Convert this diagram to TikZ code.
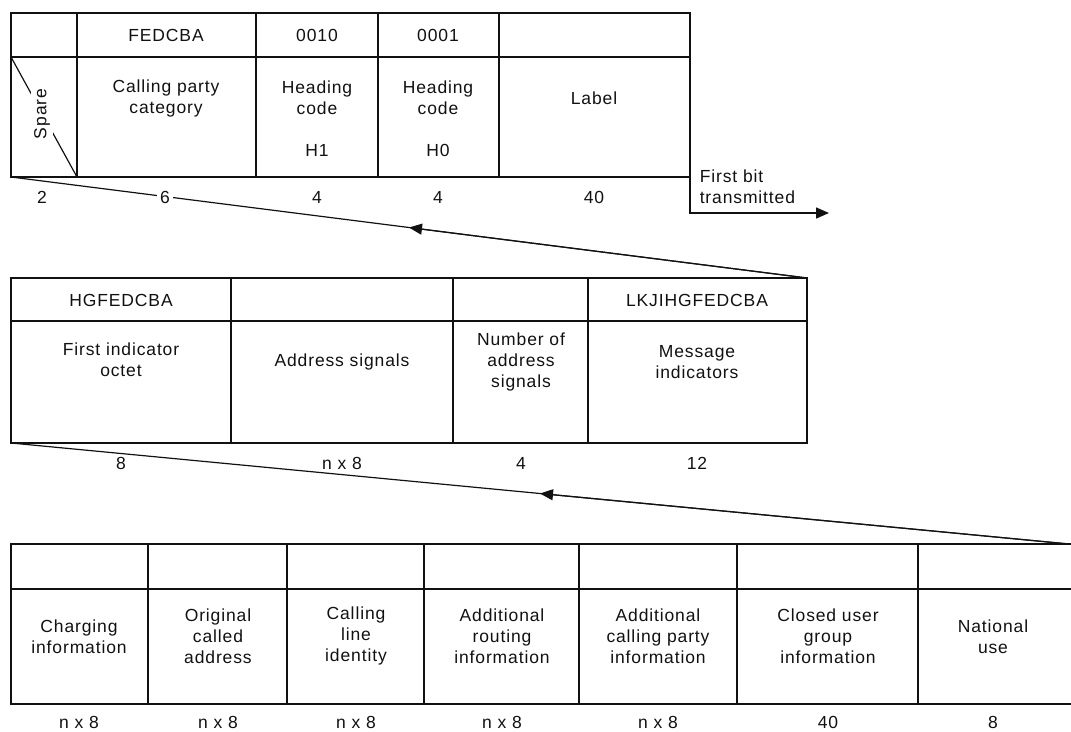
\documentclass[tikz,border=0pt]{standalone}
\usepackage{fontspec}
\setmainfont{Liberation Sans}[LetterSpace=5]
\usetikzlibrary{arrows.meta,calc}
\definecolor{ink}{HTML}{111111}

\begin{document}
\begin{tikzpicture}[x=1pt,y=-1pt,line width=1.5pt,draw=ink,text=ink,
  lbl/.style={font=\fontsize{17.5}{21}\selectfont,align=center,inner sep=1pt},
  flow/.style={line width=1.2pt},
  tip/.style={-{Triangle[length=13pt,width=11pt]}}]
  \useasboundingbox (0,0) rectangle (1071,731);
  % label unit
  \draw (11,13) rectangle (690,177);
  \draw (11,57) -- (690,57);
  \foreach \x in {77,256,378,499} \draw (\x,13) -- (\x,177);
  \draw[line width=1.2pt] (11,57) -- (77,177);
  \node[lbl,rotate=90,fill=white,inner sep=3pt] (spare) at (42,114){Spare};
  \node[lbl] (catcode) at (166,35){FEDCBA};
  \node[lbl] (hone) at (317,35){0010};
  \node[lbl] (hzero) at (438,35){0001};
  \node[lbl] (cat) at (166,98){Calling party\\category};
  \node[lbl] (hc1) at (317,98){Heading\\code};
  \node[lbl] (h1) at (317,150){H1};
  \node[lbl] (hc0) at (438,98){Heading\\code};
  \node[lbl] (h0) at (438,150){H0};
  \node[lbl] (label) at (594,98){Label};
  \coordinate (top-sw) at (11,177);
  \coordinate (top-se) at (690,177);
  \coordinate (fb) at (690,213);
  \coordinate (fb-end) at (829,213);
  \draw[tip] (top-se) -- (fb) -- (fb-end);
  \node[lbl,anchor=west,align=left] (first) at (698,187){First bit\\transmitted};
  % middle unit
  \draw (11,278) rectangle (807,443);
  \draw (11,321) -- (807,321);
  \foreach \x in {231,453,588} \draw (\x,278) -- (\x,443);
  \coordinate (mid-ne) at (807,278);
  \coordinate (mid-sw) at (11,443);
  \draw[flow] (top-sw) -- (mid-ne);
  \draw[flow,tip] (mid-ne) -- ($(top-sw)!.5!(mid-ne)$);
  \node[lbl] (w2) at (42,197){2};
  \node[lbl,fill=white,inner xsep=3pt,inner ysep=0pt] (w6) at (165,197){6};
  \node[lbl] (w4a) at (317,197){4};
  \node[lbl] (w4b) at (438,197){4};
  \node[lbl] (w40) at (594,197){40};
  \node[lbl] (fio) at (121,300){HGFEDCBA};
  \node[lbl] (mi) at (697,300){LKJIHGFEDCBA};
  \node[lbl] (first-ind) at (121,360){First indicator\\octet};
  \node[lbl] (addr) at (342,362){Address signals};
  \node[lbl] (naddr) at (521,362){Number of\\address\\signals};
  \node[lbl] (msg) at (697,362){Message\\indicators};
  \node[lbl] (m8) at (121,463){8};
  \node[lbl] (mn8) at (342,463){n x 8};
  \node[lbl] (m4) at (521,463){4};
  \node[lbl] (m12) at (697,463){12};
  % bottom unit
  \draw (1071,544) -- (11,544) -- (11,704) -- (1071,704);
  \draw (11,589) -- (1071,589);
  \foreach \x in {148,287,424,579,737,918} \draw (\x,544) -- (\x,704);
  \coordinate (bot-ne) at (1069,544);
  \draw[flow] (mid-sw) -- (bot-ne);
  \draw[flow,tip] (bot-ne) -- ($(mid-sw)!.5!(bot-ne)$);
  \node[lbl] (charge) at (79,637){Charging\\information};
  \node[lbl] (orig) at (218,636){Original\\called\\address};
  \node[lbl] (cli) at (356,636){Calling\\line\\identity};
  \node[lbl] (route) at (502,636){Additional\\routing\\information};
  \node[lbl] (acpi) at (658,636){Additional\\calling party\\information};
  \node[lbl] (cug) at (828,636){Closed user\\group\\information};
  \node[lbl] (natl) at (993,637){National\\use};
  \foreach \x/\t in {79/n x 8,218/n x 8,356/n x 8,502/n x 8,658/n x 8,828/40,993/8}
    \node[lbl] (b\x) at (\x,722){\t};
\end{tikzpicture}
\end{document}
